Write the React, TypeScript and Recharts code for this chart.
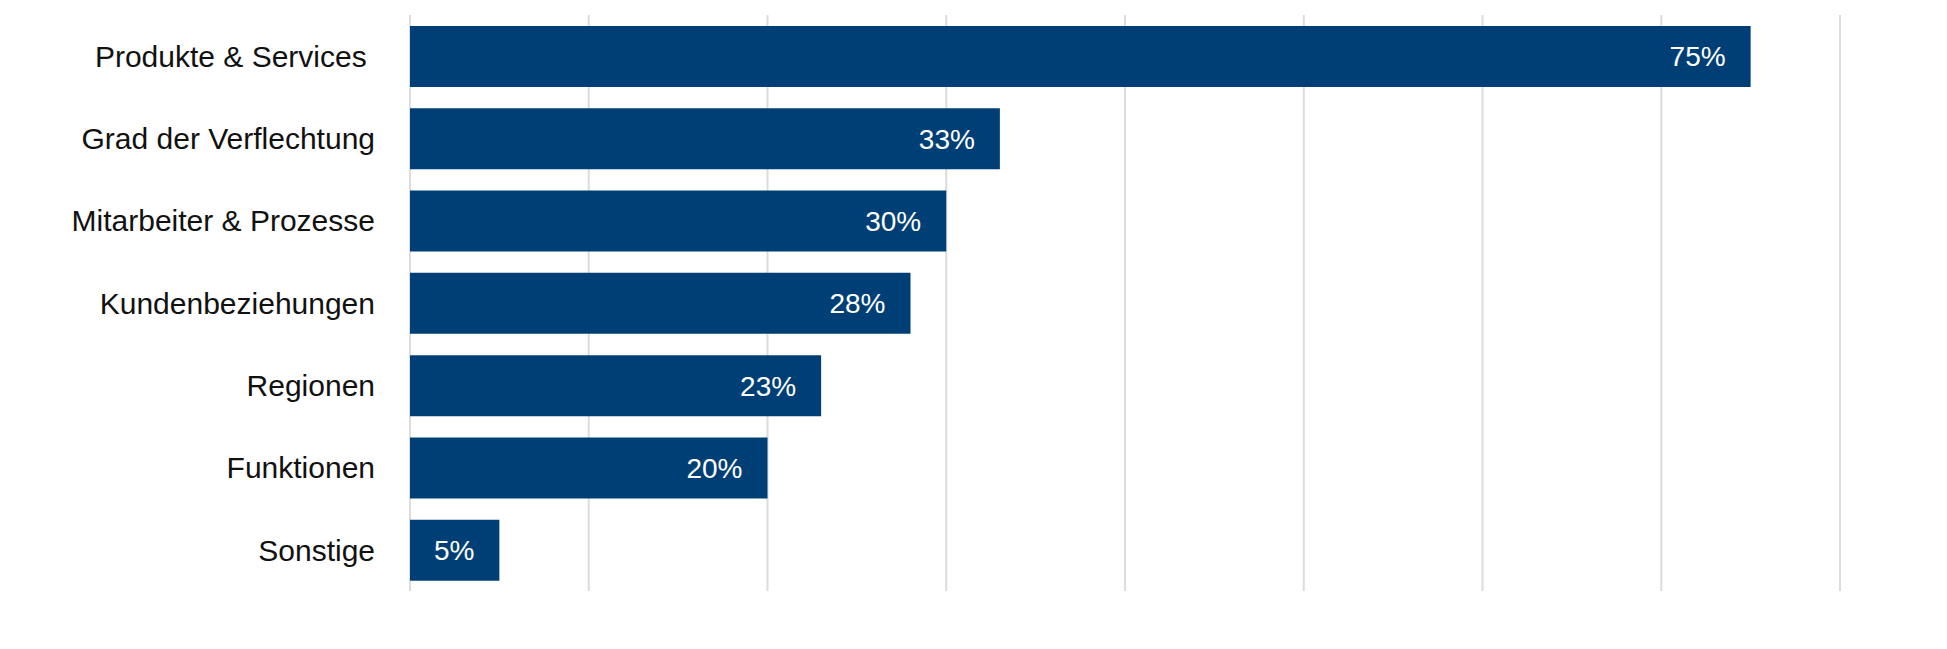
import React from "react";
import { BarChart, Bar, XAxis, YAxis, CartesianGrid, LabelList } from "recharts";

const categories = [
  "Produkte & Services\u00A0",
  "Grad der Verflechtung",
  "Mitarbeiter & Prozesse",
  "Kundenbeziehungen",
  "Regionen",
  "Funktionen",
  "Sonstige",
];
const values = [75, 33, 30, 28, 23, 20, 5];
const xTicks = [0, 10, 20, 30, 40, 50, 60, 70, 80];

const data = categories.map((name, i) => ({ name, value: values[i] }));

const FONT = "'Liberation Sans', Arial, sans-serif";

const EmptyTick = () => <g />;

export default function App() {
  return (
    <div style={{ width: 1931, height: 633, background: "#fff" }}>
      <BarChart
        width={1931}
        height={633}
        data={data}
        layout="vertical"
        margin={{ top: 7, right: 99, bottom: 0, left: 0 }}
        barSize={61}
      >
        <CartesianGrid horizontal={false} vertical={true} stroke="#dcdcdc" strokeWidth={2} />
        <XAxis
          type="number"
          domain={[0, 80]}
          ticks={xTicks}
          interval={0}
          axisLine={false}
          tickLine={false}
          tick={EmptyTick}
          height={50}
        />
        <YAxis
          type="category"
          dataKey="name"
          width={402}
          axisLine={false}
          tickLine={false}
          tickSize={0}
          tickMargin={35}
          interval={0}
          tick={{ fill: "#111111", fontSize: 30, fontFamily: FONT }}
        />
        <Bar dataKey="value" fill="#003F75" isAnimationActive={false}>
          <LabelList
            dataKey="value"
            position="insideRight"
            offset={25}
            formatter={(v: number) => `${v}%`}
            fill="#ffffff"
            style={{ fontSize: 28, fontFamily: FONT, fill: "#ffffff" }}
          />
        </Bar>
      </BarChart>
    </div>
  );
}
